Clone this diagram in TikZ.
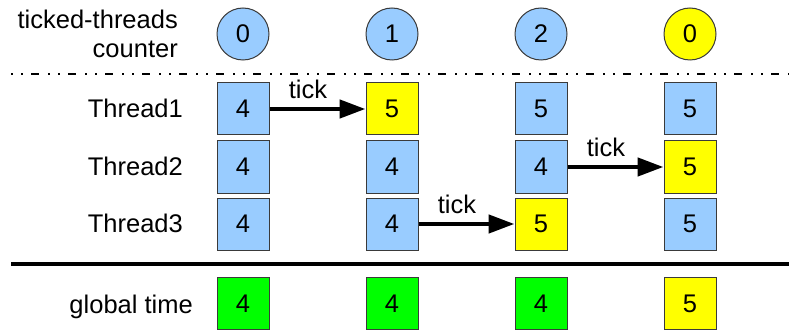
\documentclass[tikz,border=0pt]{standalone}
\usepackage{fontspec}
\setmainfont{Liberation Sans}
\usetikzlibrary{arrows.meta}
\definecolor{cellblue}{HTML}{99CCFF}
\definecolor{cellyellow}{HTML}{FFFF00}
\definecolor{cellgreen}{HTML}{00FF00}
\definecolor{cellborder}{HTML}{3A3A3A}

\begin{document}
\begin{tikzpicture}[x=1pt,y=-1pt,
  font=\fontsize{25.5}{29}\selectfont,
  cell/.style={draw=cellborder,line width=1pt,minimum size=52pt,inner sep=0pt,fill=#1},
  cell/.default=cellblue,
  cnt/.style={circle,draw=cellborder,line width=1pt,minimum size=52pt,inner sep=0pt,fill=#1},
  cnt/.default=cellblue,
  rowlabel/.style={anchor=base east,inner sep=0pt},
  tickarrow/.style={line width=4.5pt,-{Triangle[length=26pt,width=18pt]}},
  ticklabel/.style={pos=0.4,above=8pt,inner sep=0pt}
  ]
\def\colA{243}
\def\colB{392}
\def\colC{541}
\def\colD{690}
\def\rowCnt{34}
\def\rowA{109}
\def\rowB{167}
\def\rowC{224}
\def\rowG{303.5}
\useasboundingbox (0,0) rectangle (789,331);
% labels on the left
\node[rowlabel] (lblcnt1) at (178,29) {ticked-threads};
\node[rowlabel] (lblcnt2) at (178,58) {counter};
\node[rowlabel] (lblA) at (183,\rowA+8.5) {Thread1};
\node[rowlabel] (lblB) at (183,\rowB+8.5) {Thread2};
\node[rowlabel] (lblC) at (183,\rowC+8.5) {Thread3};
\node[rowlabel] (lblG) at (193,\rowG+9.5) {global time};
% ticked-threads counter
\node[cnt] (cnt1) at (\colA,\rowCnt) {0};
\node[cnt] (cnt2) at (\colB,\rowCnt) {1};
\node[cnt] (cnt3) at (\colC,\rowCnt) {2};
\node[cnt=cellyellow] (cnt4) at (\colD,\rowCnt) {0};
\draw[line width=2pt,dash pattern=on 2pt off 8pt on 2pt off 8pt on 8pt off 9pt] (11,74) -- (789,74);
% Thread1
\node[cell] (a1) at (\colA,\rowA) {4};
\node[cell=cellyellow] (a2) at (\colB,\rowA) {5};
\node[cell] (a3) at (\colC,\rowA) {5};
\node[cell] (a4) at (\colD,\rowA) {5};
% Thread2
\node[cell] (b1) at (\colA,\rowB) {4};
\node[cell] (b2) at (\colB,\rowB) {4};
\node[cell] (b3) at (\colC,\rowB) {4};
\node[cell=cellyellow] (b4) at (\colD,\rowB) {5};
% Thread3
\node[cell] (c1) at (\colA,\rowC) {4};
\node[cell] (c2) at (\colB,\rowC) {4};
\node[cell=cellyellow] (c3) at (\colC,\rowC) {5};
\node[cell] (c4) at (\colD,\rowC) {5};
\draw[line width=4pt] (11,264) -- (789,264);
% global time
\node[cell=cellgreen] (g1) at (\colA,\rowG) {4};
\node[cell=cellgreen] (g2) at (\colB,\rowG) {4};
\node[cell=cellgreen] (g3) at (\colC,\rowG) {4};
\node[cell=cellyellow] (g4) at (\colD,\rowG) {5};
% ticks
\draw[tickarrow] (a1) -- (a2) node[ticklabel] {tick};
\draw[tickarrow] (c2) -- (c3) node[ticklabel] {tick};
\draw[tickarrow] (b3) -- (b4) node[ticklabel] {tick};
\end{tikzpicture}
\end{document}
